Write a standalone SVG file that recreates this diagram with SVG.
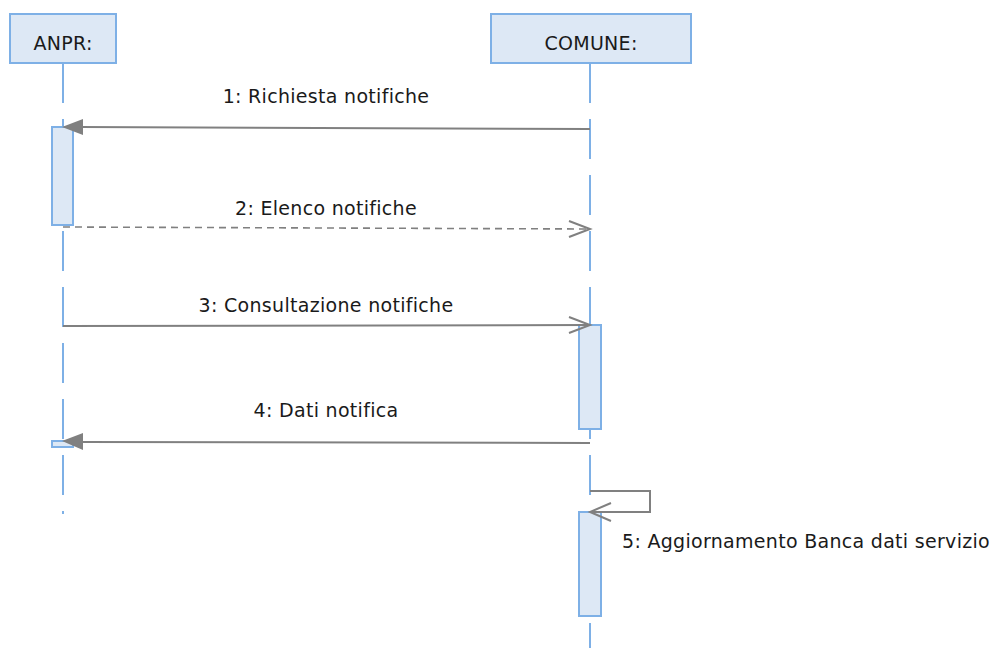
<svg xmlns="http://www.w3.org/2000/svg" width="1005" height="648" viewBox="0 0 1005 648">
<style>
.box{fill:#dde8f5;stroke:#7eb0e6;stroke-width:2}
.life{stroke:#7eb0e6;stroke-width:2;stroke-dasharray:40 16;fill:none}
.act{fill:#dde8f5;stroke:#7eb0e6;stroke-width:2}
.msg{stroke:#808080;stroke-width:2;fill:none}
.dash{stroke:#808080;stroke-width:1.6;fill:none;stroke-dasharray:7 5}
.open{stroke:#808080;stroke-width:2;fill:none}
.fill{fill:#808080;stroke:none}
text{font-family:"DejaVu Sans",sans-serif;font-size:19px;letter-spacing:0.3px;fill:#1a1a1a}
</style>
<g id="lifelines">
<line class="life" x1="63" y1="63" x2="63" y2="514"/>
<line class="life" x1="590" y1="63" x2="590" y2="648"/>
</g>
<g id="ANPR">
<rect class="box" x="10" y="14" width="106" height="49"/>
<text x="63" y="50" text-anchor="middle">ANPR:</text>
</g>
<g id="COMUNE">
<rect class="box" x="491" y="14" width="200" height="49"/>
<text x="591" y="50" text-anchor="middle">COMUNE:</text>
</g>
<g id="activations">
<rect class="act" x="52" y="127" width="21" height="98"/>
<rect class="act" x="52" y="441" width="21" height="6"/>
<rect class="act" x="579" y="325" width="22" height="104"/>
<rect class="act" x="579" y="512" width="22" height="104"/>
</g>
<g id="connectors">
<g id="m1">
<line class="msg" x1="590" y1="129" x2="80" y2="127"/>
<polygon class="fill" points="62,127 83,119 83,135"/>
<text x="326" y="103" text-anchor="middle">1: Richiesta notifiche</text>
</g>
<g id="m2">
<line class="dash" x1="63" y1="227" x2="589" y2="229"/>
<polyline class="open" points="569,221 590,229 569,237"/>
<text x="326" y="215" text-anchor="middle">2: Elenco notifiche</text>
</g>
<g id="m3">
<line class="msg" x1="63" y1="326" x2="589" y2="325"/>
<polyline class="open" points="569,317 590,325 569,333"/>
<text x="326" y="312" text-anchor="middle">3: Consultazione notifiche</text>
</g>
<g id="m4">
<line class="msg" x1="590" y1="443" x2="80" y2="442"/>
<polygon class="fill" points="62,441 83,433 83,450"/>
<text x="326" y="417" text-anchor="middle">4: Dati notifica</text>
</g>
<g id="m5">
<polyline class="msg" points="590,491 650,491 650,512 591,512"/>
<polyline class="open" points="611,503 590,512 611,521"/>
<text x="622" y="548">5: Aggiornamento Banca dati servizio</text>
</g>
</g>
</svg>
